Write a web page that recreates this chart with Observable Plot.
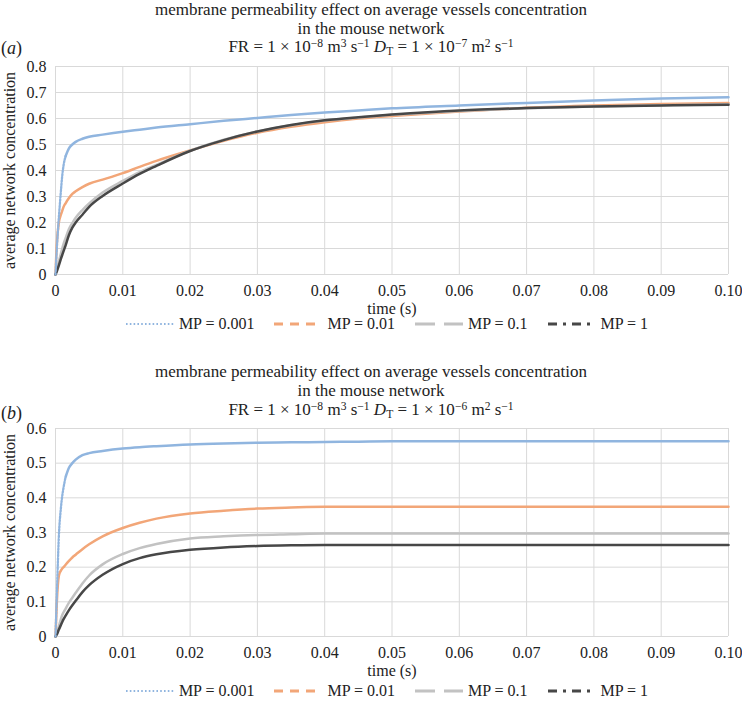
<!DOCTYPE html>
<html>
<head>
<meta charset="utf-8">
<script src="https://cdn.jsdelivr.net/npm/d3@7"></script>
<script src="https://cdn.jsdelivr.net/npm/@observablehq/plot@0.6"></script>
<style>
  body { margin: 0; background: #fff; }
  #root { position: relative; width: 742px; height: 703px; font-family: "Liberation Serif", "Tinos", "Times New Roman", serif; color: #222; }
  .t { position: absolute; left: 0; width: 742px; text-align: center; font-size: 17px; line-height: 19px; white-space: nowrap; z-index: 2; }
  .t sup, .t sub { font-size: 68%; line-height: 0; position: relative; vertical-align: baseline; }
  .t sup { top: -0.45em; }
  .t sub { top: 0.3em; }
  .tag { position: absolute; left: 0; font-size: 18px; line-height: 20px; z-index: 3; }
  .plot { position: absolute; left: 0; z-index: 1; }
  .legend { position: absolute; left: 47px; width: 680px; display: flex; justify-content: center; align-items: center; font-size: 16px; line-height: 15px; }
  .legend .item { display: flex; align-items: center; margin: 0 10px; }
  .legend svg { margin-right: 5px; }
</style>
</head>
<body>
<div id="root"></div>
<script>
// ---------------- data ----------------
const T = [0, 0.0002, 0.0005, 0.0008, 0.001, 0.0012, 0.0015, 0.002, 0.0025, 0.003, 0.004, 0.005, 0.007, 0.01, 0.0125, 0.015, 0.02, 0.025, 0.03, 0.035, 0.04, 0.045, 0.05, 0.06, 0.07, 0.08, 0.09, 0.10];

// panel (a): D_T = 1e-7
const A_MP0001 = [0, 0.10, 0.22, 0.32, 0.38, 0.42, 0.455, 0.485, 0.50, 0.51, 0.522, 0.53, 0.538, 0.549, 0.557, 0.565, 0.578, 0.591, 0.602, 0.613, 0.623, 0.631, 0.639, 0.65, 0.66, 0.669, 0.677, 0.682];
const A_MP001  = [0, 0.12, 0.20, 0.23, 0.245, 0.26, 0.274, 0.294, 0.31, 0.32, 0.336, 0.349, 0.365, 0.39, 0.414, 0.437, 0.477, 0.514, 0.545, 0.568, 0.586, 0.60, 0.61, 0.627, 0.641, 0.65, 0.656, 0.66];
const A_MP01   = [0, 0.02, 0.05, 0.08, 0.10, 0.118, 0.14, 0.175, 0.198, 0.218, 0.248, 0.273, 0.315, 0.36, 0.394, 0.422, 0.476, 0.518, 0.55, 0.574, 0.592, 0.604, 0.614, 0.629, 0.639, 0.646, 0.651, 0.655];
const A_MP1    = [0, 0.012, 0.035, 0.06, 0.075, 0.09, 0.112, 0.152, 0.18, 0.2, 0.23, 0.26, 0.302, 0.35, 0.387, 0.418, 0.475, 0.517, 0.55, 0.575, 0.593, 0.605, 0.615, 0.631, 0.64, 0.646, 0.65, 0.653];

// panel (b): D_T = 1e-6
const B_MP0001 = [0, 0.12, 0.29, 0.37, 0.405, 0.43, 0.46, 0.487, 0.50, 0.51, 0.523, 0.529, 0.535, 0.542, 0.546, 0.549, 0.554, 0.557, 0.559, 0.56, 0.561, 0.562, 0.563, 0.563, 0.563, 0.563, 0.563, 0.563];
const B_MP001  = [0, 0.10, 0.175, 0.19, 0.196, 0.20, 0.207, 0.218, 0.228, 0.236, 0.252, 0.266, 0.289, 0.313, 0.328, 0.34, 0.355, 0.363, 0.369, 0.372, 0.374, 0.374, 0.374, 0.374, 0.374, 0.374, 0.374, 0.374];
const B_MP01   = [0, 0.01, 0.03, 0.05, 0.062, 0.07, 0.08, 0.098, 0.112, 0.126, 0.153, 0.176, 0.208, 0.238, 0.255, 0.267, 0.283, 0.289, 0.293, 0.295, 0.297, 0.297, 0.297, 0.297, 0.297, 0.297, 0.297, 0.297];
const B_MP1    = [0, 0.006, 0.02, 0.033, 0.042, 0.05, 0.06, 0.076, 0.09, 0.103, 0.128, 0.148, 0.178, 0.209, 0.226, 0.237, 0.25, 0.257, 0.261, 0.263, 0.264, 0.264, 0.264, 0.264, 0.264, 0.264, 0.264, 0.264];

const seriesNames  = ["MP = 0.001", "MP = 0.01", "MP = 0.1", "MP = 1"];
const seriesColors = ["#90b5df", "#f2a678", "#c2c2c2", "#474747"];
const legendDash   = ["1.6,2.2", "9,7", "20,9", "9,6,3,6"];

const xTicks = [0, 0.01, 0.02, 0.03, 0.04, 0.05, 0.06, 0.07, 0.08, 0.09, 0.10];
const xTickLabels = ["0", "0.01", "0.02", "0.03", "0.04", "0.05", "0.06", "0.07", "0.08", "0.09", "0.10"];
const yTicksA = [0, 0.1, 0.2, 0.3, 0.4, 0.5, 0.6, 0.7, 0.8];
const yTickLabelsA = ["0", "0.1", "0.2", "0.3", "0.4", "0.5", "0.6", "0.7", "0.8"];
const yTicksB = [0, 0.1, 0.2, 0.3, 0.4, 0.5, 0.6];
const yTickLabelsB = ["0", "0.1", "0.2", "0.3", "0.4", "0.5", "0.6"];

const titleLine1 = "membrane permeability effect on average vessels concentration";
const titleLine2 = "in the mouse network";
const titleLine3A = 'FR = 1 × 10<sup>−8</sup> m<sup>3</sup> s<sup>−1</sup> <i>D</i><sub>T</sub> = 1 × 10<sup>−7</sup> m<sup>2</sup> s<sup>−1</sup>';
const titleLine3B = 'FR = 1 × 10<sup>−8</sup> m<sup>3</sup> s<sup>−1</sup> <i>D</i><sub>T</sub> = 1 × 10<sup>−6</sup> m<sup>2</sup> s<sup>−1</sup>';
const xLabel = "time (s)";
const yLabel = "average network concentration";

// ---------------- build ----------------
function rowsOf(seriesArrays) {
  const rows = [];
  seriesArrays.forEach((vals, i) => vals.forEach((v, j) => rows.push({t: T[j], v, s: seriesNames[i]})));
  return rows;
}

function panel(rows, yMax, yTicks, yLabels) {
  const grid = "#d9d9d9";
  return Plot.plot({
    width: 742, height: 258,
    marginLeft: 55, marginRight: 14, marginTop: 10, marginBottom: 40,
    style: {fontFamily: '"Liberation Serif", "Tinos", "Times New Roman", serif', fontSize: "16px", color: "#222", background: "none", overflow: "visible"},
    x: {domain: [0, 0.1]},
    y: {domain: [0, yMax]},
    color: {domain: seriesNames, range: seriesColors},
    marks: [
      Plot.gridX(xTicks, {stroke: grid, strokeOpacity: 1, strokeWidth: 1}),
      Plot.gridY(yTicks, {stroke: grid, strokeOpacity: 1, strokeWidth: 1}),
      Plot.axisX(xTicks, {tickSize: 0, tickPadding: 10, tickFormat: d => xTickLabels[Math.round(d * 100)],
        label: xLabel, labelAnchor: "center", labelArrow: "none", labelOffset: 39, fill: "#222"}),
      Plot.axisY(yTicks, {tickSize: 0, tickPadding: 9, tickFormat: d => yLabels[Math.round(d * 10)],
        label: yLabel, labelAnchor: "center", labelArrow: "none", labelOffset: 52, fill: "#222"}),
      Plot.line(rows, {filter: d => !(d.s === seriesNames[0] && d.t < 0.0015),
        x: "t", y: "v", z: "s", stroke: "s", strokeWidth: 2.5, curve: "monotone-x"}),
      Plot.line(rows, {filter: d => d.s === seriesNames[0] && d.t <= 0.0015,
        x: "t", y: "v", stroke: "s", strokeWidth: 2.3, strokeDasharray: "1.6,1.6", curve: "monotone-x"})
    ]
  });
}

function legend(top) {
  const div = document.createElement("div");
  div.className = "legend";
  div.style.top = (top - 7) + "px";
  seriesNames.forEach((name, i) => {
    const item = document.createElement("div");
    item.className = "item";
    const w = 48;
    item.innerHTML = `<svg width="${w}" height="8"><line x1="0" x2="${w}" y1="4" y2="4" stroke="${seriesColors[i]}" stroke-width="${i === 0 ? 2 : 3}" stroke-dasharray="${legendDash[i]}"/></svg><span>${name}</span>`;
    div.appendChild(item);
  });
  return div;
}

function addText(cls, html, top, extraLeft) {
  const d = document.createElement("div");
  d.className = cls;
  d.innerHTML = html;
  d.style.top = top + "px";
  if (extraLeft !== undefined) d.style.left = extraLeft + "px";
  root.appendChild(d);
}

const root = document.getElementById("root");

// panel a
const pa = panel(rowsOf([A_MP0001, A_MP001, A_MP01, A_MP1]), 0.8, yTicksA, yTickLabelsA);
pa.classList.add("plot"); pa.style.top = "56px";
root.appendChild(pa);
addText("t", titleLine1, 0);
addText("t", titleLine2, 19);
addText("t", titleLine3A, 37);
addText("tag", "(<i>a</i>)", 38, 1);
root.appendChild(legend(323));

// panel b
const pb = panel(rowsOf([B_MP0001, B_MP001, B_MP01, B_MP1]), 0.6, yTicksB, yTickLabelsB);
pb.classList.add("plot"); pb.style.top = "418px";
root.appendChild(pb);
addText("t", titleLine1, 362);
addText("t", titleLine2, 381);
addText("t", titleLine3B, 400);
addText("tag", "(<i>b</i>)", 403, 1);
root.appendChild(legend(690));
</script>
</body>
</html>
